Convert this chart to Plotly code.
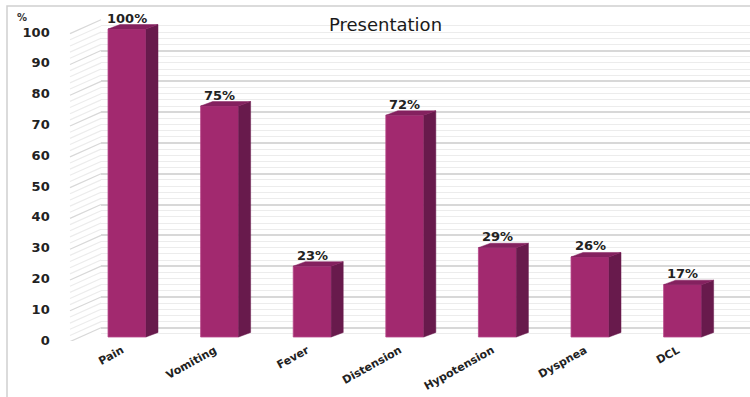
import plotly.graph_objects as go

categories = ["Pain", "Vomiting", "Fever", "Distension", "Hypotension", "Dyspnea", "DCL"]
values = [100, 75, 23, 72, 29, 26, 17]
value_labels = ["100%", "75%", "23%", "72%", "29%", "26%", "17%"]
y_ticks = [0, 10, 20, 30, 40, 50, 60, 70, 80, 90, 100]
title_text = "Presentation"
y_unit = "%"

W, H = 750, 397
FRONT = "#A2296F"
SIDE = "#681A4C"
TOP = "#84215F"
GRID_MAJ = "#d8d8d8"
GRID_MIN = "#ececec"

# 3D-look geometry (data units)
bar_w = 0.41
dx = 0.13      # depth offset in category units
dy = 1.45      # depth offset in value units
back_shift = 3.0

ydom = [1 - 341 / H, 1 - 19 / H]
front_range = [-1.299, 103.25]
back_range = [front_range[0] - back_shift, front_range[1] - back_shift]

idx = list(range(len(categories)))

fig = go.Figure()

# back wall (subplot xy) – only gridlines
fig.add_trace(go.Scatter(x=[0, 1], y=[0, 0], mode="markers", marker=dict(opacity=0),
                         hoverinfo="skip", showlegend=False, xaxis="x", yaxis="y"))

# front bars (subplot x2y2)
fig.add_trace(go.Bar(x=idx, y=values, width=bar_w, marker=dict(color=FRONT, line=dict(color="#B8478A", width=0.8)),
                     showlegend=False, hoverinfo="skip", xaxis="x2", yaxis="y2"))

side_x, side_y, top_x, top_y = [], [], [], []
for i, v in zip(idx, values):
    r = i + bar_w / 2
    l = i - bar_w / 2
    side_x += [r, r + dx, r + dx, r, r, None]
    side_y += [0, dy, v + dy, v, 0, None]
    top_x += [l, l + dx, r + dx, r, l, None]
    top_y += [v, v + dy, v + dy, v, v, None]

fig.add_trace(go.Scatter(x=side_x, y=side_y, mode="lines", fill="toself", fillcolor=SIDE,
                         line=dict(color=SIDE, width=0.5), hoverinfo="skip", showlegend=False,
                         xaxis="x2", yaxis="y2"))
fig.add_trace(go.Scatter(x=top_x, y=top_y, mode="lines", fill="toself", fillcolor=TOP,
                         line=dict(color=TOP, width=0.5), hoverinfo="skip", showlegend=False,
                         xaxis="x2", yaxis="y2"))

annotations = []
for i, v, t in zip(idx, values, value_labels):
    annotations.append(dict(x=i, y=v + dy, xref="x2", yref="y2", text=t, showarrow=False,
                            yanchor="bottom", yshift=-3,
                            font=dict(family="DejaVu Sans", size=13, color="#222222", weight="bold")))

annotations.append(dict(x=385 / W, y=1 - 25 / H, xref="paper", yref="paper", text=title_text,
                        showarrow=False, xanchor="center", yanchor="middle",
                        font=dict(family="DejaVu Sans", size=18, color="#1a1a1a")))
annotations.append(dict(x=22 / W, y=1 - 17 / H, xref="paper", yref="paper", text=y_unit,
                        showarrow=False, xanchor="center", yanchor="middle",
                        font=dict(family="DejaVu Sans", size=10, color="#333333", weight="bold")))

shapes = []
# side-wall diagonal grid lines
for v in range(0, 101, 2):
    shapes.append(dict(type="line", xref="paper", yref="y", x0=70 / W, y0=v - 4.5, x1=101 / W, y1=v,
                       line=dict(color=GRID_MAJ if v % 10 == 0 else GRID_MIN, width=1.2), layer="below"))
# outer border
shapes.append(dict(type="rect", xref="paper", yref="paper", x0=7 / W, y0=-0.02, x1=1.02, y1=1 - 6 / H,
                   line=dict(color="#d0d0d0", width=1.5), fillcolor="rgba(0,0,0,0)"))

fig.update_layout(
    width=W, height=H, autosize=False,
    margin=dict(l=0, r=0, t=0, b=0, autoexpand=False),
    paper_bgcolor="white", plot_bgcolor="rgba(0,0,0,0)",
    showlegend=False,
    annotations=annotations,
    shapes=shapes,
    xaxis=dict(domain=[101 / W, 1], range=[0, 1], visible=False, fixedrange=True, automargin=False),
    yaxis=dict(domain=ydom, range=back_range, showgrid=True, gridcolor=GRID_MAJ, gridwidth=1.5,
               dtick=10, tick0=0, showticklabels=False, zeroline=False, showline=False, ticks="",
               automargin=False,
               minor=dict(dtick=2, tick0=0, showgrid=True, gridcolor=GRID_MIN, gridwidth=1.2)),
    xaxis2=dict(domain=[80.7 / W, 728.9 / W], range=[-0.5, 6.5], anchor="y2",
                tickvals=idx, ticktext=categories, tickangle=-29, showgrid=False, zeroline=False,
                showline=False, ticks="", ticklabelshift=-5, automargin=False,
                tickfont=dict(family="DejaVu Sans", size=11, color="#222222", weight="bold")),
    yaxis2=dict(domain=ydom, range=front_range, anchor="x2", showgrid=False, zeroline=False,
                showline=False, ticks="", tickvals=y_ticks, ticktext=[str(t) for t in y_ticks],
                ticklabelstandoff=30, ticklabelshift=3, automargin=False,
                tickfont=dict(family="DejaVu Sans", size=13, color="#222222", weight="bold")),
)

fig.write_html("out.html")
